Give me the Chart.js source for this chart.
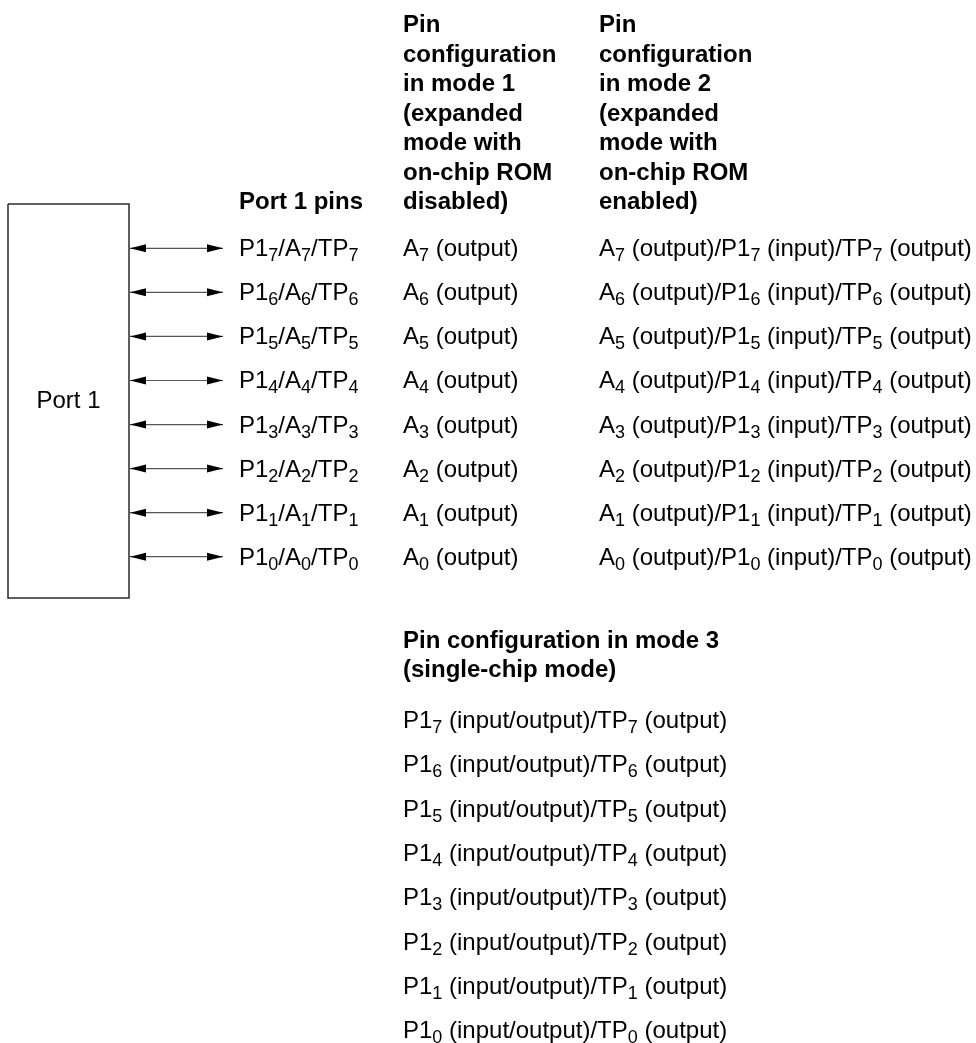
<!DOCTYPE html>
<html>
<head>
<meta charset="utf-8">
<title>Port 1 pin configuration</title>
<script src="https://cdn.jsdelivr.net/npm/chart.js@4.4.1/dist/chart.umd.min.js"></script>
<style>
    html, body { margin: 0; padding: 0; background: #fff; }
    #wrap { width: 976px; height: 1043px; position: relative; }
</style>
</head>
<body>
<div id="wrap"><canvas id="diagram"></canvas></div>
<script>
// "_7" means: draw the 7 as a subscript
const blockLabel = "Port 1";
const pinsHeader = "Port 1 pins";
const pinLabels = [
    "P1_7/A_7/TP_7", "P1_6/A_6/TP_6", "P1_5/A_5/TP_5", "P1_4/A_4/TP_4",
    "P1_3/A_3/TP_3", "P1_2/A_2/TP_2", "P1_1/A_1/TP_1", "P1_0/A_0/TP_0"
];
const mode1Header = ["Pin", "configuration", "in mode 1", "(expanded", "mode with", "on-chip ROM", "disabled)"];
const mode1Labels = [
    "A_7 (output)", "A_6 (output)", "A_5 (output)", "A_4 (output)",
    "A_3 (output)", "A_2 (output)", "A_1 (output)", "A_0 (output)"
];
const mode2Header = ["Pin", "configuration", "in mode 2", "(expanded", "mode with", "on-chip ROM", "enabled)"];
const mode2Labels = [
    "A_7 (output)/P1_7 (input)/TP_7 (output)",
    "A_6 (output)/P1_6 (input)/TP_6 (output)",
    "A_5 (output)/P1_5 (input)/TP_5 (output)",
    "A_4 (output)/P1_4 (input)/TP_4 (output)",
    "A_3 (output)/P1_3 (input)/TP_3 (output)",
    "A_2 (output)/P1_2 (input)/TP_2 (output)",
    "A_1 (output)/P1_1 (input)/TP_1 (output)",
    "A_0 (output)/P1_0 (input)/TP_0 (output)"
];
const mode3Header = ["Pin configuration in mode 3", "(single-chip mode)"];
const mode3Labels = [
    "P1_7 (input/output)/TP_7 (output)",
    "P1_6 (input/output)/TP_6 (output)",
    "P1_5 (input/output)/TP_5 (output)",
    "P1_4 (input/output)/TP_4 (output)",
    "P1_3 (input/output)/TP_3 (output)",
    "P1_2 (input/output)/TP_2 (output)",
    "P1_1 (input/output)/TP_1 (output)",
    "P1_0 (input/output)/TP_0 (output)"
];

// layout, in scale units (scales run 0..976 across and 0..1043 down)
const W = 976, H = 1043;
const box = { left: 8, right: 129, top: 204, bottom: 598 };
const arrowFrom = 130, arrowTo = 223;
const rowTop = 248.3, rowStep = 44.06;
const baselineDrop = 8;
const colPins = 239, colMode1 = 403, colMode2 = 599;
const headerTop = 32, headerStep = 29.5;
const mode3HeaderTop = 648, mode3HeaderStep = 29;
const mode3RowTop = 728, mode3RowStep = 44.3;

const fontFamily = "'Liberation Sans', Arial, Helvetica, sans-serif";
const fontSize = 24, subSize = 18, subDrop = 5;

const rowY = (i) => rowTop + i * rowStep;

// datasets: the block outline and one double arrow per pin
const boxDataset = {
    label: "block",
    data: [
        { x: box.left, y: box.top },
        { x: box.right, y: box.top },
        { x: box.right, y: box.bottom },
        { x: box.left, y: box.bottom },
        { x: box.left, y: box.top }
    ],
    showLine: true,
    borderColor: "#2a2a2a",
    borderWidth: 1.5,
    pointRadius: 0,
    fill: false
};

const arrowDatasets = pinLabels.map((label, i) => ({
    label: label,
    isArrow: true,
    data: [
        { x: arrowFrom, y: rowY(i) },
        { x: arrowTo, y: rowY(i) }
    ],
    showLine: true,
    borderColor: "#555",
    borderWidth: 1.2,
    pointRadius: 0
}));

// draws text with "_x" subscripts, starting at x on the given baseline
function drawRich(ctx, text, x, y, bold) {
    const weight = bold ? "bold " : "";
    const parts = text.split(/_(.)/);
    let cx = x;
    parts.forEach((part, k) => {
        if (!part) return;
        if (k % 2 === 1) {
            ctx.font = `${weight}${subSize}px ${fontFamily}`;
            ctx.fillText(part, cx, y + subDrop);
        } else {
            ctx.font = `${weight}${fontSize}px ${fontFamily}`;
            ctx.fillText(part, cx, y);
        }
        cx += ctx.measureText(part).width;
    });
}

const arrowHeads = {
    id: "arrowHeads",
    afterDatasetsDraw(chart) {
        const ctx = chart.ctx;
        const headLen = 16, headHalf = 4;
        ctx.save();
        ctx.fillStyle = "#000";
        chart.data.datasets.forEach((ds, i) => {
            if (!ds.isArrow) return;
            const pts = chart.getDatasetMeta(i).data;
            const a = pts[0], b = pts[pts.length - 1];
            ctx.beginPath();
            ctx.moveTo(a.x, a.y);
            ctx.lineTo(a.x + headLen, a.y - headHalf);
            ctx.lineTo(a.x + headLen, a.y + headHalf);
            ctx.closePath();
            ctx.fill();
            ctx.beginPath();
            ctx.moveTo(b.x, b.y);
            ctx.lineTo(b.x - headLen, b.y - headHalf);
            ctx.lineTo(b.x - headLen, b.y + headHalf);
            ctx.closePath();
            ctx.fill();
        });
        ctx.restore();
    }
};

const labelText = {
    id: "labelText",
    afterDraw(chart) {
        const ctx = chart.ctx;
        const xs = chart.scales.x, ys = chart.scales.y;
        const px = (v) => xs.getPixelForValue(v);
        const py = (v) => ys.getPixelForValue(v);
        ctx.save();
        ctx.fillStyle = "#000";
        ctx.textAlign = "left";
        ctx.textBaseline = "alphabetic";

        // block name, centred in the box
        ctx.font = `${fontSize}px ${fontFamily}`;
        ctx.textAlign = "center";
        ctx.textBaseline = "middle";
        ctx.fillText(blockLabel, px((box.left + box.right) / 2), py((box.top + box.bottom) / 2));
        ctx.textAlign = "left";
        ctx.textBaseline = "alphabetic";

        // column headers
        const lastHeader = headerTop + (mode1Header.length - 1) * headerStep;
        drawRich(ctx, pinsHeader, px(colPins), py(lastHeader), true);
        mode1Header.forEach((t, k) => drawRich(ctx, t, px(colMode1), py(headerTop + k * headerStep), true));
        mode2Header.forEach((t, k) => drawRich(ctx, t, px(colMode2), py(headerTop + k * headerStep), true));

        // pin rows
        pinLabels.forEach((t, i) => {
            const y = py(rowY(i) + baselineDrop);
            drawRich(ctx, t, px(colPins), y, false);
            drawRich(ctx, mode1Labels[i], px(colMode1), y, false);
            drawRich(ctx, mode2Labels[i], px(colMode2), y, false);
        });

        // mode 3 block
        mode3Header.forEach((t, k) => drawRich(ctx, t, px(colMode1), py(mode3HeaderTop + k * mode3HeaderStep), true));
        mode3Labels.forEach((t, i) => drawRich(ctx, t, px(colMode1), py(mode3RowTop + i * mode3RowStep), false));
        ctx.restore();
    }
};

new Chart(document.getElementById("diagram").getContext("2d"), {
    type: "scatter",
    data: { datasets: [boxDataset, ...arrowDatasets] },
    options: {
        animation: false,
        responsive: true,
        maintainAspectRatio: false,
        events: [],
        layout: { padding: 0 },
        plugins: {
            legend: { display: false },
            tooltip: { enabled: false }
        },
        scales: {
            x: { type: "linear", min: 0, max: W, display: false },
            y: { type: "linear", min: 0, max: H, reverse: true, display: false }
        }
    },
    plugins: [arrowHeads, labelText]
});
</script>
</body>
</html>
